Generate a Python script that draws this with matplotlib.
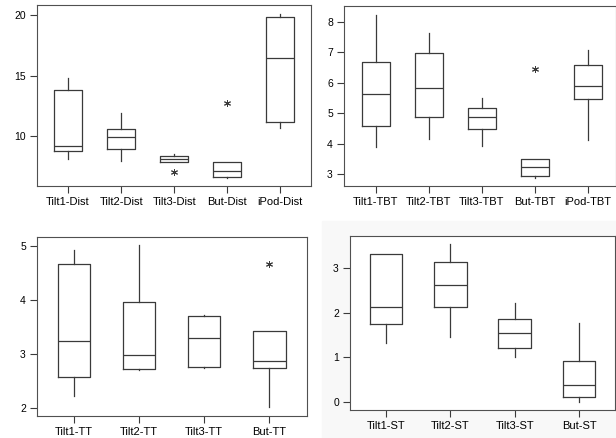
import numpy as np
import matplotlib
matplotlib.use("Agg")
import matplotlib.pyplot as plt

plt.rcParams['font.family'] = ['Liberation Sans', 'DejaVu Sans']

# box stats: low whisker, q1, median, q3, high whisker
dist_labels = ["Tilt1-Dist", "Tilt2-Dist", "Tilt3-Dist", "But-Dist", "iPod-Dist"]
dist_low = [8.07, 7.96, 7.85, 6.5, 10.69]
dist_q1 = [8.76, 8.9, 7.85, 6.64, 11.18]
dist_med = [9.17, 9.92, 8.07, 7.08, 16.47]
dist_q3 = [13.8, 10.6, 8.37, 7.88, 19.8]
dist_high = [14.77, 11.93, 8.5, 7.88, 20.08]
dist_out = [[], [], [7.05], [12.75], []]

tbt_labels = ["Tilt1-TBT", "Tilt2-TBT", "Tilt3-TBT", "But-TBT", "iPod-TBT"]
tbt_low = [3.89, 4.16, 3.92, 2.86, 4.12]
tbt_q1 = [4.59, 4.89, 4.48, 2.93, 5.47]
tbt_med = [5.63, 5.84, 4.89, 3.23, 5.88]
tbt_q3 = [6.69, 6.99, 5.17, 3.50, 6.59]
tbt_high = [8.24, 7.64, 5.49, 3.50, 7.07]
tbt_out = [[], [], [], [6.44], []]

tt_labels = ["Tilt1-TT", "Tilt2-TT", "Tilt3-TT", "But-TT"]
tt_low = [2.22, 2.70, 2.74, 2.02]
tt_q1 = [2.57, 2.72, 2.76, 2.75]
tt_med = [3.24, 2.98, 3.29, 2.88]
tt_q3 = [4.67, 3.96, 3.70, 3.43]
tt_high = [4.92, 5.01, 3.72, 3.43]
tt_out = [[], [], [], [4.67]]

st_labels = ["Tilt1-ST", "Tilt2-ST", "Tilt3-ST", "But-ST"]
st_low = [1.33, 1.45, 1.0, 0.0]
st_q1 = [1.75, 2.14, 1.21, 0.10]
st_med = [2.12, 2.62, 1.55, 0.37]
st_q3 = [3.32, 3.15, 1.86, 0.92]
st_high = [3.32, 3.55, 2.23, 1.76]
st_out = [[], [], [], []]

W, H = 616, 438
fig = plt.figure(figsize=(W / 100, H / 100), dpi=100)
# faint grey backdrop of the lower right picture
fig.patches.append(plt.Rectangle((322 / W, 0), 1 - 322 / W, 1 - 221 / H,
                                 transform=fig.transFigure, color="#f8f8f8", zorder=-5))

line_c = "#3a3a3a"


def add_panel(box, labels, low, q1, med, q3, high, out, xlim, ylim, yticks, width):
    x0, y0, x1, y1 = box
    ax = fig.add_axes([x0 / W, 1 - y1 / H, (x1 - x0) / W, (y1 - y0) / H])
    ax.set_zorder(2)
    stats = []
    for i in range(len(labels)):
        stats.append(dict(whislo=low[i], q1=q1[i], med=med[i], q3=q3[i],
                          whishi=high[i], fliers=out[i], label=labels[i]))
    ax.bxp(stats, positions=range(1, len(labels) + 1), widths=width,
           showcaps=False,
           boxprops=dict(color=line_c, lw=0.9),
           whiskerprops=dict(color=line_c, lw=0.9),
           medianprops=dict(color=line_c, lw=0.9),
           flierprops=dict(marker=(6, 2, 0), markersize=5, markeredgecolor=line_c,
                           markeredgewidth=0.7))
    ax.set_xlim(*xlim)
    ax.set_ylim(*ylim)
    ax.set_yticks(yticks)
    ax.set_facecolor("white")
    for s in ax.spines.values():
        s.set_color("#505050")
        s.set_linewidth(0.8)
    ax.tick_params(axis="x", length=5, width=0.8, color=line_c, labelsize=8, pad=3)
    ax.tick_params(axis="y", length=5, width=0.8, color=line_c, labelsize=7.5, pad=3)
    return ax


add_panel((37, 5, 311, 186), dist_labels, dist_low, dist_q1, dist_med, dist_q3, dist_high,
          dist_out, (0.415, 5.58), (5.87, 20.83), [10, 15, 20], 0.52)
add_panel((344, 6, 616, 186), tbt_labels, tbt_low, tbt_q1, tbt_med, tbt_q3, tbt_high,
          tbt_out, (0.4, 5.53), (2.61, 8.52), [3, 4, 5, 6, 7, 8], 0.52)
add_panel((37, 237, 307, 416), tt_labels, tt_low, tt_q1, tt_med, tt_q3, tt_high,
          tt_out, (0.43, 4.58), (1.86, 5.16), [2, 3, 4, 5], 0.5)
add_panel((350, 236, 615, 410), st_labels, st_low, st_q1, st_med, st_q3, st_high,
          st_out, (0.44, 4.56), (-0.19, 3.73), [0, 1, 2, 3], 0.51)

fig.savefig("out.png", dpi=100)
